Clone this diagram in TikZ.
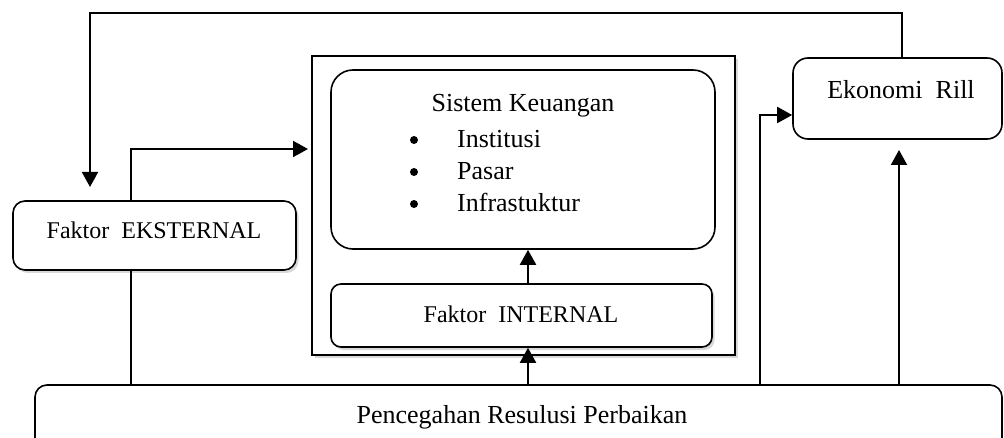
\documentclass[tikz,border=0pt]{standalone}
\usepackage{fontspec}
\setmainfont{Liberation Serif}
\usetikzlibrary{arrows.meta,fit,shadows}
\begin{document}
\begin{tikzpicture}[x=1pt,y=-1pt,
  boxr/.style={draw,line width=1.6pt,rounded corners=#1,inner sep=0pt,fill=white},
  shad/.style={drop shadow={shadow xshift=2.5pt,shadow yshift=-3pt,opacity=0.25,fill=black!60}},
  conn/.style={line width=2pt},
  arr/.style={line width=2pt,-{Triangle[length=15pt,width=16pt]}},
  bul/.style={circle,fill,inner sep=0pt,minimum size=8pt},
  lbl/.style={font=\fontsize{24}{28}\selectfont,inner sep=0pt},
  lblb/.style={font=\fontsize{26}{30}\selectfont,inner sep=0pt}]
\useasboundingbox (0,0) rectangle (1004,438);
% boxes
\node[draw,line width=1.6pt,inner sep=0pt,fill=white,shad,fit={(312,56) (735,355)}] (outer) {};
\node[boxr=22pt,fit={(331,70) (715,249)}] (sis) {};
\node[boxr=10pt,shad,fit={(331,284) (712,347)}] (int) {};
\node[boxr=12pt,shad,fit={(13,201) (296,270)}] (ext) {};
\node[boxr=15pt,fit={(793,58) (1002,139)}] (eko) {};
\node[boxr=12pt,fit={(35,385) (1002,452)}] (bot) {};
% texts
\node[lbl] (textext) at (154,230) {Faktor\ \ EKSTERNAL};
\node[lbl] (textint) at (521,314) {Faktor\ \ INTERNAL};
\node[lblb] (texteko) at (901,90) {Ekonomi\ \ Rill};
\node[lblb] (textbot) at (522,417) {Pencegahan Resulusi Perbaikan};
\node[lblb] (textsis) at (523,106) {Sistem Keuangan};
\node[bul] (b1) at (414,140) {};
\node[bul] (b2) at (414,172) {};
\node[bul] (b3) at (414,204) {};
\node[lblb,anchor=base west] (i1) at (457,148) {Institusi};
\node[lblb,anchor=base west] (i2) at (457,180) {Pasar};
\node[lblb,anchor=base west] (i3) at (457,212) {Infrastuktur};
% coordinates
\coordinate (xa) at (131,0);
\coordinate (xb) at (528,0);
\coordinate (xc) at (760,0);
\coordinate (xd) at (899,0);
\coordinate (xe) at (902,0);
\coordinate (xf) at (90,0);
\coordinate (ytop) at (0,13);
\coordinate (yeko) at (0,115);
\coordinate (tipext) at (90,187);
\coordinate (tipouter) at (308,149);
\coordinate (tipeko) at (899,150);
% connectors
\draw[arr] (eko.north -| xe) |- (ytop -| xf) -- (tipext);
\draw[arr] (ext.north -| xa) |- (tipouter);
\draw[conn] (bot.north -| xa) -- (ext.south -| xa);
\draw[arr] (bot.north -| xb) -- (int.south -| xb);
\draw[arr] (int.north -| xb) -- (sis.south -| xb);
\draw[arr] (bot.north -| xc) |- (eko.west |- yeko);
\draw[arr] (bot.north -| xd) -- (tipeko);
\end{tikzpicture}
\end{document}
